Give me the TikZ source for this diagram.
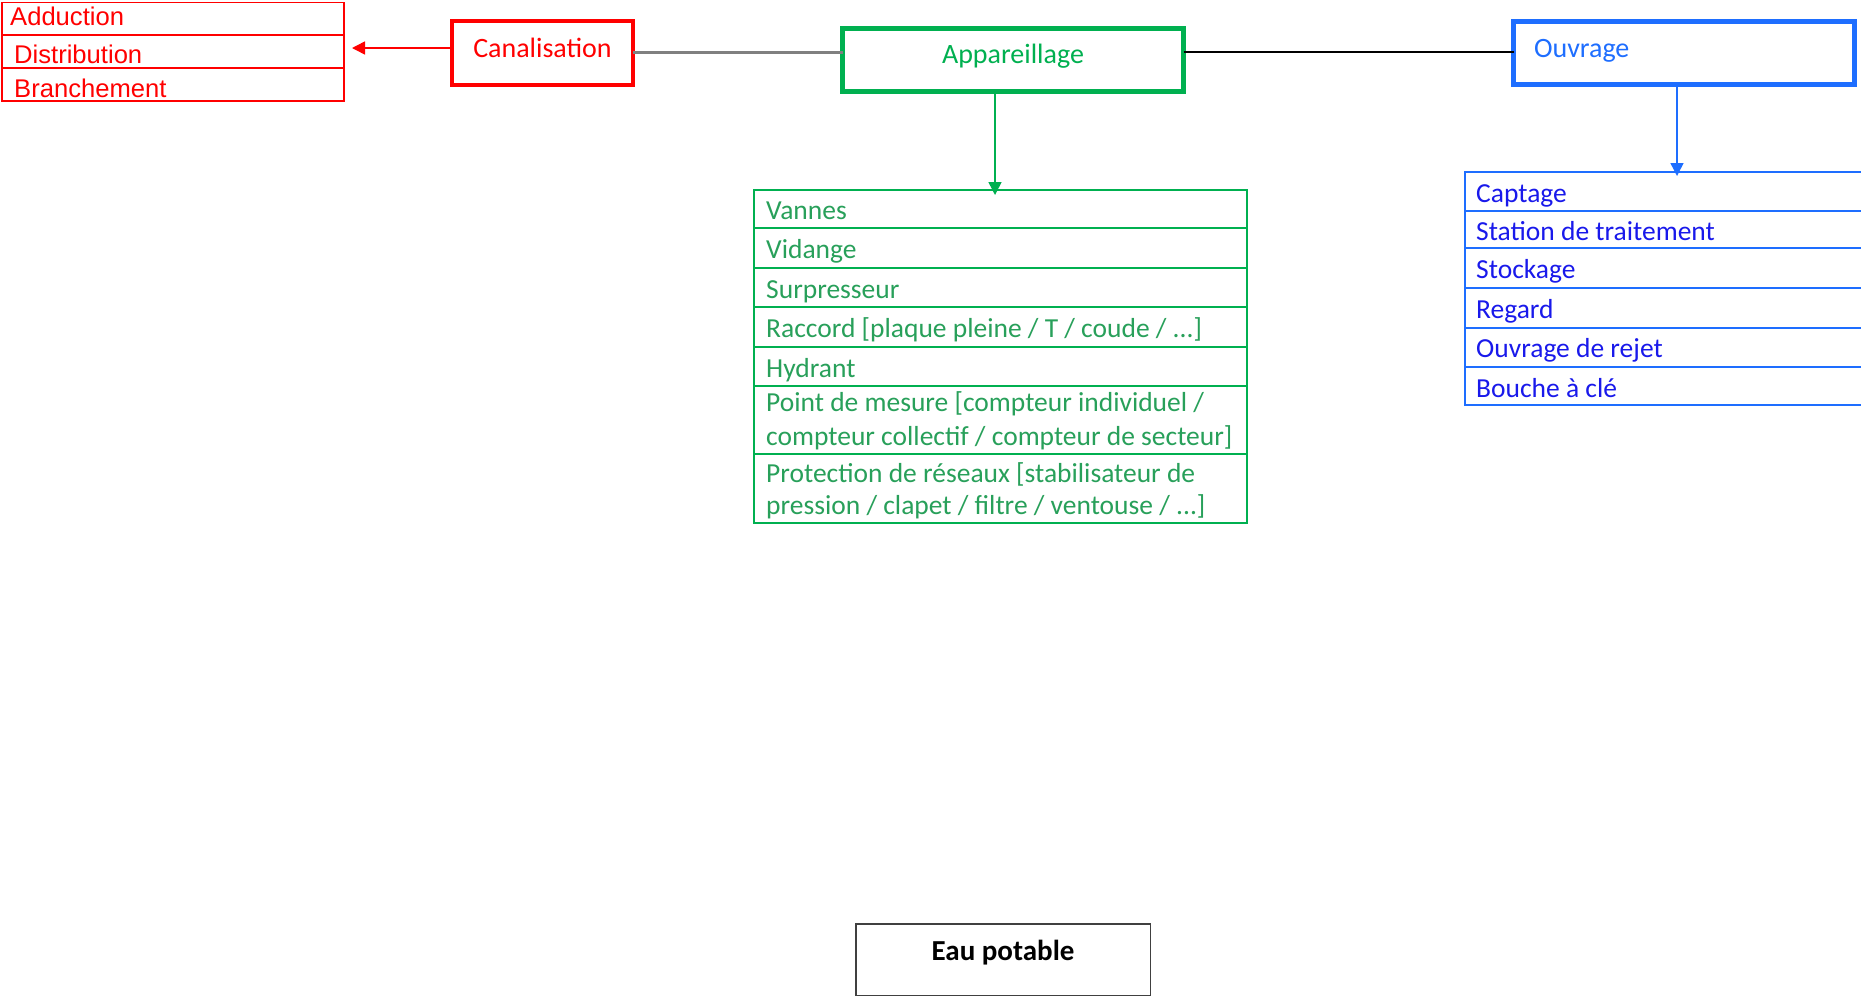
\documentclass[tikz,border=0pt]{standalone}
\usepackage{fontspec}
\setmainfont{Carlito}
\newfontfamily\arialf{Liberation Sans}
\usetikzlibrary{arrows.meta}
\definecolor{cred}{RGB}{255,0,0}
\definecolor{cgreen}{RGB}{0,176,80}
\definecolor{cgreentext}{RGB}{40,160,90}
\definecolor{cblue}{RGB}{30,110,255}
\definecolor{cbluetext}{RGB}{25,25,235}
\definecolor{cgray}{RGB}{128,128,128}
\definecolor{cdark}{RGB}{64,64,64}
\tikzset{
  bigbox/.style={draw, line width=4.5pt, inner sep=0pt, outer sep=0pt, font=\fontsize{28}{34}\selectfont},
  rowbox/.style={draw, anchor=north west, inner sep=0pt, outer sep=0pt},
  redrow/.style={rowbox, draw=cred, line width=1.5pt, minimum width=342pt},
  greenrow/.style={rowbox, draw=cgreen, line width=2pt, minimum width=493.3pt},
  bluerow/.style={rowbox, draw=cblue, line width=2pt, minimum width=420pt},
  rtxt/.style={anchor=base west, inner sep=0pt, text=cred, font=\arialf\fontsize{25.6}{30}\selectfont},
  gtxt/.style={anchor=base west, inner sep=0pt, text=cgreentext, font=\fontsize{27.5}{33}\selectfont},
  btxt/.style={anchor=base west, inner sep=0pt, text=cbluetext, font=\fontsize{27.5}{33}\selectfont},
  tipa/.style={-{Triangle[length=13pt,width=13pt]}, line width=1.5pt}
}
\begin{document}
\begin{tikzpicture}[x=1pt,y=-1pt]
\clip (0,0) rectangle (1861,997);
\fill[white] (0,0) rectangle (1861,997);

% red table
\node[redrow, minimum height=32.3pt] (r1) at (2,2.7) {};
\node[redrow, minimum height=33pt] (r2) at (2,35) {};
\node[redrow, minimum height=33pt] (r3) at (2,68) {};
\node[rtxt] (r1t) at (10,25) {Adduction};
\node[rtxt] (r2t) at (14,63) {Distribution};
\node[rtxt] (r3t) at (14,97) {Branchement};

% top boxes
\node[bigbox, draw=cred, text=cred, minimum width=181pt, minimum height=64pt, text height=20pt, text depth=12pt] (can) at (542.5,53) {Canalisation};
\node[bigbox, draw=cgreen, text=cgreen, minimum width=341pt, minimum height=63pt, text height=20pt, text depth=14pt] (app) at (1013,60) {Appareillage};
\node[bigbox, draw=cblue, text=cblue, minimum width=341pt, minimum height=63pt, text height=20pt, text depth=12pt, text width=300pt, align=left, inner xsep=20.5pt] (ouv) at (1684,53) {Ouvrage};

% links
\coordinate (lk) at (0,52);
\draw[cgray, line width=3pt] (can.east |- lk) -- (app.west |- lk);
\draw[black, line width=1.5pt] (app.east |- lk) -- (ouv.west |- lk);

% green table
\node[greenrow, minimum height=38.3pt] (g1) at (754,190) {};
\node[greenrow, minimum height=39.4pt] (g2) at (754,228.3) {};
\node[greenrow, minimum height=39.3pt] (g3) at (754,267.7) {};
\node[greenrow, minimum height=39.7pt] (g4) at (754,307) {};
\node[greenrow, minimum height=39.3pt] (g5) at (754,346.7) {};
\node[greenrow, minimum height=68pt] (g6) at (754,386) {};
\node[greenrow, minimum height=69.3pt] (g7) at (754,454) {};
\node[gtxt] (g1t) at (766,219) {Vannes};
\node[gtxt] (g2t) at (766,258) {Vidange};
\node[gtxt] (g3t) at (766,298) {Surpresseur};
\node[gtxt] (g4t) at (766,337) {Raccord [plaque pleine / T / coude / ...]};
\node[gtxt] (g5t) at (766,377) {Hydrant};
\node[gtxt] (g6a) at (766,411.5) {Point de mesure [compteur individuel /};
\node[gtxt] (g6b) at (766,445) {compteur collectif / compteur de secteur]};
\node[gtxt] (g7a) at (766,482.5) {Protection de réseaux [stabilisateur de};
\node[gtxt] (g7b) at (766,514.5) {pression / clapet / filtre / ventouse / ...]};

% blue table
\node[bluerow, minimum height=39pt] (b1) at (1465,171.7) {};
\node[bluerow, minimum height=37.6pt] (b2) at (1465,210.7) {};
\node[bluerow, minimum height=40pt] (b3) at (1465,248.3) {};
\node[bluerow, minimum height=39.4pt] (b4) at (1465,288.3) {};
\node[bluerow, minimum height=39.6pt] (b5) at (1465,327.7) {};
\node[bluerow, minimum height=37.7pt] (b6) at (1465,367.3) {};
\node[btxt] (b1t) at (1476,202) {Captage};
\node[btxt] (b2t) at (1476,240) {Station de traitement};
\node[btxt] (b3t) at (1476,278.7) {Stockage};
\node[btxt] (b4t) at (1476,318.3) {Regard};
\node[btxt] (b5t) at (1476,357.7) {Ouvrage de rejet};
\node[btxt] (b6t) at (1476,397.3) {Bouche à clé};

% arrows
\coordinate (rtip) at (352,48);
\draw[tipa, cred] (can.west |- rtip) -- (rtip);
\coordinate (gtip) at (995,195);
\draw[tipa, cgreen] (gtip |- app.south) -- (gtip);
\coordinate (btip) at (1677,176);
\draw[tipa, cblue] (btip |- ouv.south) -- (btip);

% Eau potable
\node[draw=cdark, line width=1.5pt, inner sep=0pt, outer sep=0pt, minimum width=294.5pt, minimum height=71.5pt, text height=20pt, text depth=19pt, font=\bfseries\fontsize{29}{34}\selectfont] (eau) at (1003,959.5) {Eau potable};
\end{tikzpicture}
\end{document}
